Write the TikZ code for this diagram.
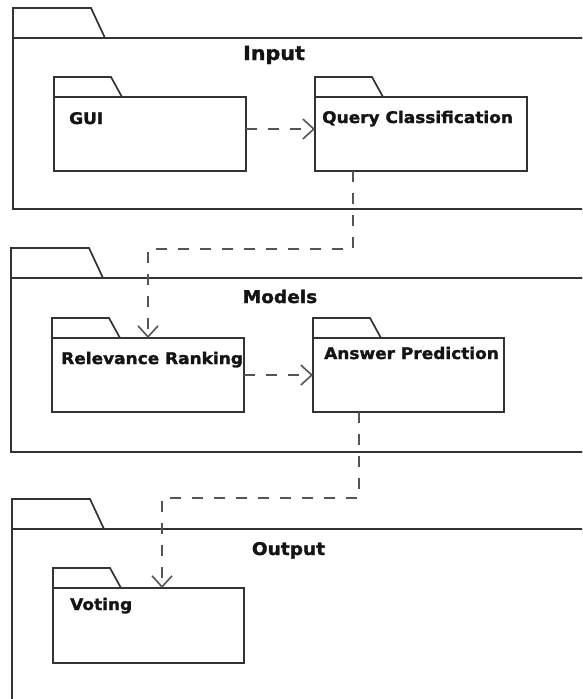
\documentclass[tikz,border=0pt]{standalone}
\usepackage{fontspec}
\newfontfamily\lblfont[FakeStretch=1.06,FakeBold=1.6]{DejaVu Sans}
\usetikzlibrary{arrows.meta,calc}
\definecolor{ln}{HTML}{333333}
\definecolor{dsh}{HTML}{555555}
\definecolor{txt}{HTML}{141414}
\newcommand\bigtab[1]{\draw[tabline] (#1.north west) -- ++(0,-30) -- ++(78,0) -- ($(#1.north west)+(92,0)$);}
\newcommand\smalltab[1]{\draw[tabline] (#1.north west) -- ++(0,-20) -- ++(57,0) -- ($(#1.north west)+(68,0)$);}
\begin{document}
\begin{tikzpicture}[x=1pt,y=-1pt,
  pkg/.style={draw=ln,line width=1.7pt,rectangle,inner sep=0pt,outer sep=0pt,anchor=north west},
  tabline/.style={draw=ln,line width=1.7pt},
  lbl/.style={font=\lblfont\bfseries\fontsize{16}{19}\selectfont,text=txt,inner sep=0pt,anchor=base west},
  ttl/.style={font=\lblfont\bfseries\fontsize{17.5}{21}\selectfont,text=txt,inner sep=0pt,anchor=base},
  dep/.style={draw=dsh,line width=1.7pt,dash pattern=on 11pt off 11pt,
    -{Straight Barb[length=11pt,width=20pt,line width=1.6pt]}}]
\useasboundingbox (0,0) rectangle (582,699);
\clip (0,0) rectangle (582,699);
\fill[white] (0,0) rectangle (582,699);

% outer packages
\node[pkg,minimum width=600pt,minimum height=171pt] (input) at (13,38) {};
\bigtab{input}
\node[pkg,minimum width=600pt,minimum height=174pt] (models) at (11,278) {};
\bigtab{models}
\node[pkg,minimum width=600pt,minimum height=200pt] (output) at (12,529) {};
\bigtab{output}

% inner packages
\node[pkg,minimum width=192pt,minimum height=74pt] (gui) at (54,97) {};
\smalltab{gui}
\node[pkg,minimum width=212pt,minimum height=74pt] (qc) at (315,97) {};
\smalltab{qc}
\node[pkg,minimum width=192pt,minimum height=74pt] (rr) at (52,338) {};
\smalltab{rr}
\node[pkg,minimum width=191pt,minimum height=74pt] (ap) at (313,338) {};
\smalltab{ap}
\node[pkg,minimum width=191pt,minimum height=75pt] (voting) at (53,588) {};
\smalltab{voting}

% labels
\node[ttl,font=\lblfont\bfseries\fontsize{19.5}{23}\selectfont] (inputL) at (274,60) {Input};
\node[ttl] (modelsL) at (280,303) {Models};
\node[ttl] (outputL) at (288.5,555) {Output};
\node[lbl] (guiL) at (69,124) {GUI};
\node[lbl] (qcL) at (322,123) {Query Classification};
\node[lbl] (rrL) at (61,364) {Relevance Ranking};
\node[lbl] (apL) at (324,359) {Answer Prediction};
\node[lbl] (votingL) at (70,610) {Voting};

% connectors
\coordinate (k1) at (148,249);
\coordinate (k2) at (162,498);
\draw[dep] ([yshift=5pt]gui.east) -- ([yshift=5pt]qc.west);
\draw[dep] ([xshift=-68pt]qc.south) |- (k1) -- (rr.north);
\draw[dep] (rr.east) -- (ap.west);
\draw[dep] ([xshift=-49.5pt]ap.south) |- (k2) -- ([xshift=13.5pt]voting.north);
\end{tikzpicture}
\end{document}
